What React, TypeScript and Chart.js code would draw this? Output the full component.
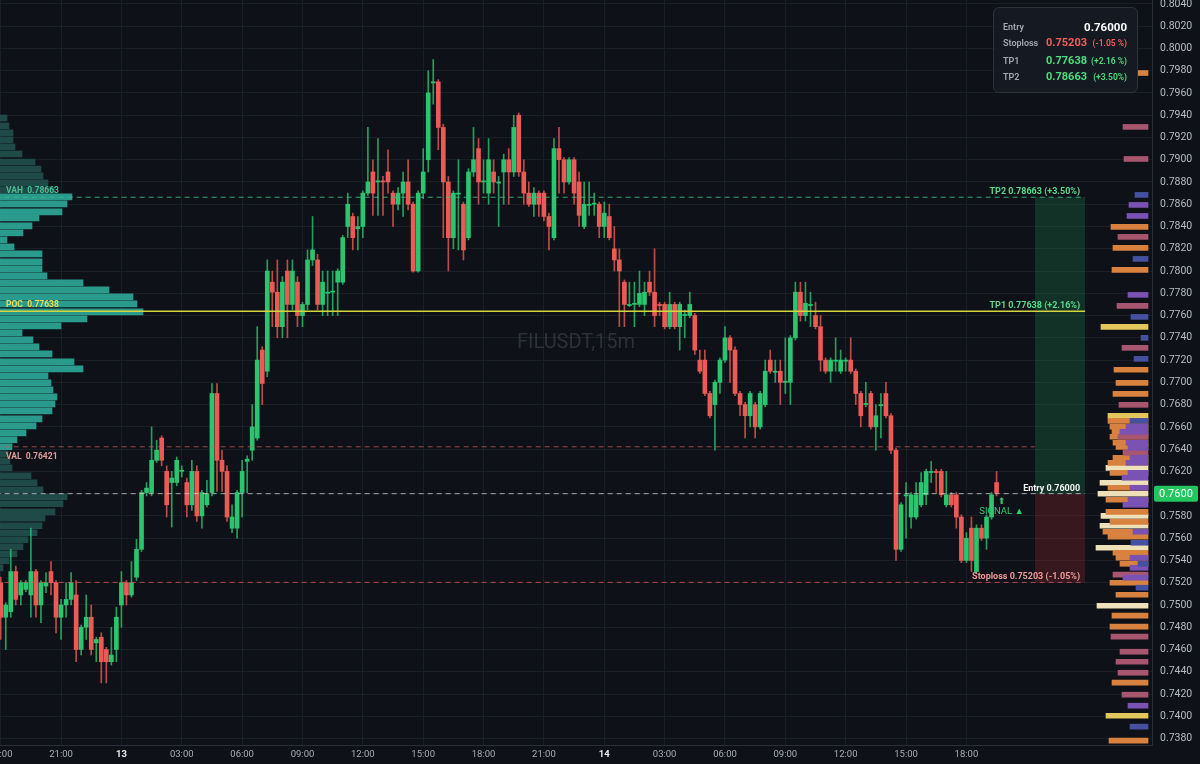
import React, { useEffect, useRef } from 'react';
import { Chart, registerables } from 'chart.js';

Chart.register(...registerables);

// ---------- DATA ----------
const SYMBOL = 'FILUSDT,15m';
const TIME_LABELS = ['18:00', '21:00', '13', '03:00', '06:00', '09:00', '12:00', '15:00', '18:00', '21:00', '14', '03:00', '06:00', '09:00', '12:00', '15:00', '18:00'];
const DAY_LABELS = ['13', '14'];
const CANDLES_PER_LABEL = 12;

const OPEN = [
  0.7520, 0.7489, 0.7494, 0.7530, 0.7509, 0.7514, 0.7509, 0.7530, 0.7500, 0.7517,
  0.7530, 0.7520, 0.7489, 0.7500, 0.7505, 0.7509, 0.7460, 0.7480, 0.7489, 0.7466,
  0.7471, 0.7460, 0.7449, 0.7460, 0.7500, 0.7520, 0.7509, 0.7525, 0.7550, 0.7601,
  0.7601, 0.7630, 0.7650, 0.7620, 0.7610, 0.7610, 0.7620, 0.7610, 0.7590, 0.7620,
  0.7580, 0.7590, 0.7601, 0.7690, 0.7630, 0.7620, 0.7569, 0.7569, 0.7601, 0.7629,
  0.7639, 0.7650, 0.7729, 0.7710, 0.7790, 0.7781, 0.7750, 0.7800, 0.7770, 0.7790,
  0.7760, 0.7770, 0.7810, 0.7810, 0.7770, 0.7780, 0.7781, 0.7790, 0.7790, 0.7840,
  0.7849, 0.7838, 0.7840, 0.7870, 0.7889, 0.7880, 0.7881, 0.7889, 0.7870, 0.7860,
  0.7870, 0.7880, 0.7860, 0.7800, 0.7870, 0.7900, 0.7969, 0.7970, 0.7929, 0.7880,
  0.7830, 0.7869, 0.7860, 0.7830, 0.7889, 0.7910, 0.7880, 0.7870, 0.7889, 0.7879,
  0.7889, 0.7900, 0.7889, 0.7940, 0.7889, 0.7870, 0.7860, 0.7870, 0.7870, 0.7849,
  0.7830, 0.7910, 0.7900, 0.7880, 0.7900, 0.7880, 0.7840, 0.7859, 0.7860, 0.7860,
  0.7840, 0.7849, 0.7820, 0.7810, 0.7790, 0.7769, 0.7770, 0.7770, 0.7770, 0.7790,
  0.7781, 0.7770, 0.7770, 0.7750, 0.7770, 0.7750, 0.7760, 0.7760, 0.7760, 0.7720,
  0.7720, 0.7690, 0.7680, 0.7700, 0.7720, 0.7740, 0.7729, 0.7690, 0.7680, 0.7670,
  0.7680, 0.7660, 0.7680, 0.7720, 0.7709, 0.7710, 0.7700, 0.7700, 0.7740, 0.7781,
  0.7760, 0.7769, 0.7760, 0.7750, 0.7720, 0.7710, 0.7719, 0.7710, 0.7719, 0.7720,
  0.7710, 0.7690, 0.7680, 0.7690, 0.7660, 0.7679, 0.7690, 0.7670, 0.7639, 0.7550,
  0.7598, 0.7579, 0.7579, 0.7590, 0.7599, 0.7619, 0.7620, 0.7620, 0.7590, 0.7599,
  0.7599, 0.7579, 0.7540, 0.7569, 0.7530, 0.7569, 0.7560, 0.7579, 0.7610,
];
const HIGH = [
  0.7525, 0.7502, 0.7550, 0.7535, 0.7522, 0.7522, 0.7569, 0.7532, 0.7522, 0.7529,
  0.7539, 0.7522, 0.7505, 0.7520, 0.7529, 0.7522, 0.7482, 0.7509, 0.7500, 0.7471,
  0.7475, 0.7462, 0.7480, 0.7498, 0.7530, 0.7522, 0.7539, 0.7559, 0.7603, 0.7610,
  0.7660, 0.7648, 0.7652, 0.7625, 0.7620, 0.7633, 0.7625, 0.7614, 0.7630, 0.7625,
  0.7603, 0.7612, 0.7699, 0.7699, 0.7639, 0.7625, 0.7590, 0.7603, 0.7630, 0.7634,
  0.7680, 0.7750, 0.7732, 0.7810, 0.7800, 0.7810, 0.7795, 0.7810, 0.7810, 0.7795,
  0.7772, 0.7819, 0.7849, 0.7815, 0.7800, 0.7800, 0.7800, 0.7802, 0.7832, 0.7870,
  0.7852, 0.7849, 0.7872, 0.7929, 0.7900, 0.7919, 0.7885, 0.7909, 0.7872, 0.7875,
  0.7889, 0.7900, 0.7862, 0.7872, 0.7910, 0.7980, 0.7990, 0.7972, 0.7932, 0.7885,
  0.7872, 0.7900, 0.7862, 0.7892, 0.7929, 0.7919, 0.7900, 0.7919, 0.7900, 0.7885,
  0.7905, 0.7910, 0.7940, 0.7942, 0.7900, 0.7880, 0.7875, 0.7872, 0.7872, 0.7852,
  0.7919, 0.7929, 0.7902, 0.7902, 0.7902, 0.7889, 0.7880, 0.7880, 0.7870, 0.7862,
  0.7862, 0.7860, 0.7840, 0.7820, 0.7792, 0.7790, 0.7790, 0.7800, 0.7790, 0.7800,
  0.7820, 0.7772, 0.7772, 0.7781, 0.7772, 0.7772, 0.7765, 0.7781, 0.7762, 0.7729,
  0.7729, 0.7692, 0.7702, 0.7722, 0.7750, 0.7742, 0.7732, 0.7692, 0.7682, 0.7692,
  0.7682, 0.7692, 0.7720, 0.7729, 0.7720, 0.7720, 0.7740, 0.7742, 0.7790, 0.7790,
  0.7790, 0.7781, 0.7772, 0.7760, 0.7722, 0.7722, 0.7740, 0.7729, 0.7722, 0.7740,
  0.7712, 0.7692, 0.7700, 0.7692, 0.7680, 0.7690, 0.7700, 0.7672, 0.7641, 0.7592,
  0.7610, 0.7601, 0.7610, 0.7619, 0.7622, 0.7629, 0.7622, 0.7622, 0.7620, 0.7601,
  0.7601, 0.7581, 0.7565, 0.7579, 0.7572, 0.7572, 0.7581, 0.7601, 0.7620,
];
const LOW = [
  0.7469, 0.7460, 0.7489, 0.7500, 0.7500, 0.7512, 0.7489, 0.7489, 0.7484, 0.7511,
  0.7509, 0.7475, 0.7469, 0.7489, 0.7500, 0.7449, 0.7455, 0.7469, 0.7455, 0.7449,
  0.7430, 0.7430, 0.7446, 0.7449, 0.7480, 0.7500, 0.7507, 0.7522, 0.7548, 0.7598,
  0.7598, 0.7628, 0.7625, 0.7579, 0.7570, 0.7607, 0.7615, 0.7579, 0.7585, 0.7575,
  0.7569, 0.7588, 0.7598, 0.7602, 0.7602, 0.7575, 0.7565, 0.7560, 0.7579, 0.7601,
  0.7630, 0.7648, 0.7680, 0.7705, 0.7750, 0.7740, 0.7740, 0.7740, 0.7765, 0.7750,
  0.7750, 0.7765, 0.7805, 0.7765, 0.7760, 0.7760, 0.7760, 0.7760, 0.7788, 0.7830,
  0.7819, 0.7819, 0.7830, 0.7868, 0.7850, 0.7850, 0.7850, 0.7870, 0.7840, 0.7855,
  0.7849, 0.7855, 0.7799, 0.7799, 0.7865, 0.7889, 0.7950, 0.7909, 0.7830, 0.7800,
  0.7820, 0.7819, 0.7810, 0.7828, 0.7885, 0.7860, 0.7870, 0.7860, 0.7870, 0.7840,
  0.7860, 0.7860, 0.7885, 0.7885, 0.7860, 0.7858, 0.7849, 0.7849, 0.7845, 0.7819,
  0.7828, 0.7870, 0.7870, 0.7878, 0.7860, 0.7840, 0.7838, 0.7850, 0.7850, 0.7830,
  0.7830, 0.7828, 0.7800, 0.7750, 0.7750, 0.7768, 0.7750, 0.7768, 0.7760, 0.7778,
  0.7750, 0.7760, 0.7748, 0.7748, 0.7748, 0.7729, 0.7740, 0.7758, 0.7725, 0.7708,
  0.7688, 0.7668, 0.7639, 0.7690, 0.7718, 0.7700, 0.7688, 0.7670, 0.7650, 0.7660,
  0.7650, 0.7658, 0.7678, 0.7708, 0.7700, 0.7680, 0.7690, 0.7680, 0.7738, 0.7755,
  0.7755, 0.7750, 0.7748, 0.7710, 0.7708, 0.7700, 0.7710, 0.7708, 0.7710, 0.7708,
  0.7680, 0.7660, 0.7678, 0.7658, 0.7639, 0.7650, 0.7668, 0.7636, 0.7540, 0.7548,
  0.7560, 0.7569, 0.7577, 0.7588, 0.7590, 0.7610, 0.7601, 0.7597, 0.7588, 0.7588,
  0.7569, 0.7538, 0.7538, 0.7530, 0.7528, 0.7558, 0.7550, 0.7577, 0.7598,
];
const CLOSE = [
  0.7489, 0.7500, 0.7530, 0.7505, 0.7520, 0.7520, 0.7530, 0.7500, 0.7520, 0.7520,
  0.7520, 0.7489, 0.7500, 0.7505, 0.7520, 0.7460, 0.7480, 0.7489, 0.7460, 0.7469,
  0.7449, 0.7449, 0.7455, 0.7489, 0.7520, 0.7509, 0.7520, 0.7550, 0.7601, 0.7605,
  0.7630, 0.7639, 0.7630, 0.7590, 0.7614, 0.7630, 0.7621, 0.7590, 0.7620, 0.7580,
  0.7601, 0.7600, 0.7690, 0.7630, 0.7620, 0.7579, 0.7579, 0.7601, 0.7620, 0.7631,
  0.7660, 0.7720, 0.7699, 0.7800, 0.7781, 0.7750, 0.7790, 0.7770, 0.7800, 0.7760,
  0.7770, 0.7810, 0.7819, 0.7770, 0.7790, 0.7781, 0.7782, 0.7800, 0.7830, 0.7860,
  0.7830, 0.7840, 0.7870, 0.7880, 0.7870, 0.7881, 0.7880, 0.7880, 0.7860, 0.7870,
  0.7880, 0.7860, 0.7800, 0.7870, 0.7889, 0.7960, 0.7970, 0.7929, 0.7880, 0.7830,
  0.7870, 0.7870, 0.7819, 0.7889, 0.7900, 0.7880, 0.7881, 0.7900, 0.7880, 0.7880,
  0.7900, 0.7889, 0.7929, 0.7889, 0.7870, 0.7860, 0.7870, 0.7860, 0.7849, 0.7840,
  0.7910, 0.7900, 0.7880, 0.7900, 0.7870, 0.7850, 0.7860, 0.7860, 0.7861, 0.7840,
  0.7852, 0.7830, 0.7810, 0.7800, 0.7770, 0.7770, 0.7771, 0.7780, 0.7781, 0.7781,
  0.7760, 0.7769, 0.7750, 0.7770, 0.7750, 0.7770, 0.7761, 0.7770, 0.7729, 0.7710,
  0.7690, 0.7670, 0.7700, 0.7720, 0.7740, 0.7729, 0.7690, 0.7680, 0.7670, 0.7690,
  0.7660, 0.7690, 0.7710, 0.7710, 0.7710, 0.7700, 0.7701, 0.7740, 0.7781, 0.7760,
  0.7771, 0.7770, 0.7750, 0.7720, 0.7710, 0.7720, 0.7720, 0.7720, 0.7720, 0.7710,
  0.7690, 0.7670, 0.7681, 0.7660, 0.7670, 0.7680, 0.7670, 0.7639, 0.7550, 0.7590,
  0.7599, 0.7599, 0.7599, 0.7610, 0.7620, 0.7620, 0.7619, 0.7599, 0.7599, 0.7590,
  0.7579, 0.7540, 0.7560, 0.7540, 0.7569, 0.7560, 0.7579, 0.7599, 0.7601,
];

// Trade levels
const ENTRY = 0.76;
const STOPLOSS = 0.75203;
const TP1 = 0.77638;
const TP2 = 0.78663;
const VAH = 0.78663;
const POC = 0.77638;
const VAL = 0.76421;
const SIGNAL_INDEX = 199;
const SIGNAL_PRICE = 0.7585;
const ZONE_START = 205.6;
const ZONE_END = 215.6;

// Session volume profile (left)
const VP_PRICES = [
  0.79375, 0.79304, 0.79241, 0.79178, 0.79115, 0.79052, 0.78980, 0.78917, 0.78855, 0.78792,
  0.78729, 0.78666, 0.78603, 0.78531, 0.78477, 0.78406, 0.78343, 0.78280, 0.78217, 0.78154,
  0.78082, 0.78019, 0.77957, 0.77894, 0.77831, 0.77768, 0.77705, 0.77633, 0.77570, 0.77508,
  0.77445, 0.77382, 0.77319, 0.77256, 0.77184, 0.77121, 0.77058, 0.76996, 0.76933, 0.76870,
  0.76807, 0.76744, 0.76672, 0.76609, 0.76546, 0.76484, 0.76421, 0.76358, 0.76295, 0.76232,
  0.76161, 0.76098, 0.76035, 0.75972, 0.75909, 0.75837, 0.75780, 0.75712, 0.75649, 0.75586,
  0.75523, 0.75460, 0.75397, 0.75334,
];
const VP_VOLUMES = [
  7, 9, 13, 13, 15, 22, 35, 41, 43, 48,
  55, 72, 67, 62, 39, 32, 23, 7, 14, 42,
  42, 42, 47, 83, 109, 133, 137, 143, 87, 61,
  22, 33, 39, 52, 74, 83, 48, 51, 53, 57,
  55, 52, 42, 36, 26, 17, 12, 8, 10, 12,
  31, 37, 43, 67, 63, 55, 45, 42, 37, 28,
  23, 17, 9, 3,
];

// Order-book liquidity levels (right), [price, size]
const OB_ORANGE = [
  [0.79779, 10], [0.78397, 37], [0.78208, 35], [0.78011, 36], [0.77113, 34], [0.76996, 32], [0.76897, 35],
  [0.76654, 40], [0.76601, 38], [0.76556, 36], [0.76511, 38], [0.76457, 35], [0.76421, 32], [0.76322, 35],
  [0.76277, 40], [0.76187, 38], [0.76053, 40], [0.75945, 42], [0.75837, 42], [0.75747, 38], [0.75658, 45],
  [0.75613, 40], [0.75469, 35], [0.75424, 32], [0.75370, 28], [0.75200, 38], [0.75092, 32], [0.74904, 36],
  [0.74805, 38], [0.74302, 36], [0.73781, 39],
];
const OB_YELLOW = [[0.77499, 47], [0.76699, 40], [0.74005, 42]];
const OB_CREAM = [[0.76232, 42], [0.76098, 48], [0.75999, 50], [0.75801, 47], [0.75712, 48], [0.75514, 52], [0.74993, 51]];
const OB_MAUVE = [
  [0.79295, 25], [0.79007, 24], [0.78307, 30], [0.77687, 31], [0.77310, 26], [0.76798, 29], [0.76511, 30],
  [0.76367, 25], [0.75272, 35], [0.74715, 37], [0.74580, 28], [0.74490, 32], [0.74391, 30], [0.74194, 26],
];
const OB_PURPLE = [
  [0.78594, 19], [0.78495, 21], [0.77786, 20], [0.76601, 22], [0.76556, 28], [0.76457, 22], [0.76412, 20],
  [0.76322, 18], [0.76277, 22], [0.76187, 20], [0.76143, 26], [0.76053, 18], [0.75945, 20], [0.75900, 25],
  [0.75658, 15], [0.75424, 18], [0.75334, 18], [0.75245, 25], [0.74095, 20],
];
const OB_BLUE = [
  [0.78684, 13], [0.78109, 15], [0.77588, 17], [0.77400, 7], [0.77211, 14], [0.76654, 18], [0.75559, 17],
  [0.75370, 10], [0.75155, 12], [0.73907, 18],
];

// ---------- STYLE ----------
const BG = '#0e1117';
const GRID = '#1a1e27';
const AXIS_BORDER = '#2a2e39';
const FONT = 'Roboto, "Noto Sans", sans-serif';
const UP = '#2bc46f';
const DOWN = '#ec5a55';
const GREEN_TXT = '#4ade80';
const RED_TXT = '#f25f5c';
const X_MIN = -0.14;
const X_MAX = 228.9;
const Y_MIN = 0.73742;
const Y_MAX = 0.80435;

const pct = (p: number) => {
  const v = (p / ENTRY - 1) * 100;
  return (v >= 0 ? '+' : '') + v.toFixed(2) + '%';
};

const overlayPlugin = {
  id: 'overlay',
  beforeDatasetsDraw(chart: any) {
    const { ctx, chartArea } = chart;
    ctx.save();
    ctx.fillStyle = 'rgba(125,130,142,0.28)';
    ctx.font = `20px ${FONT}`;
    ctx.textAlign = 'center';
    ctx.textBaseline = 'middle';
    ctx.fillText(SYMBOL, (chartArea.left + chartArea.right) / 2, chartArea.top + chartArea.height * 0.46);
    ctx.restore();
  },
  afterDatasetsDraw(chart: any) {
    const { ctx, chartArea, scales } = chart;
    const x = scales.x;
    const y = scales.y;
    const t = (s: string, px: number, py: number, color: string, align: string, font: string) => {
      ctx.fillStyle = color;
      ctx.font = font;
      ctx.textAlign = align;
      ctx.textBaseline = 'alphabetic';
      ctx.fillText(s, px, py);
    };
    ctx.save();
    const lf = `bold 8.5px ${FONT}`;
    const rf = `bold 9px ${FONT}`;
    const lx = chartArea.left + 6;
    t(`VAH  ${VAH.toFixed(5)}`, lx, y.getPixelForValue(VAH) - 4, '#45c092', 'left', lf);
    t(`POC  ${POC.toFixed(5)}`, lx, y.getPixelForValue(POC) - 4, '#e6dc5a', 'left', lf);
    t(`VAL  ${VAL.toFixed(5)}`, lx, y.getPixelForValue(VAL) + 12, '#e09c9c', 'left', lf);
    const rx = x.getPixelForValue(ZONE_END) - 5;
    t(`TP2 ${TP2.toFixed(5)} (${pct(TP2)})`, rx, y.getPixelForValue(TP2) - 3, '#5ad98c', 'right', rf);
    t(`TP1 ${TP1.toFixed(5)} (${pct(TP1)})`, rx, y.getPixelForValue(TP1) - 3, '#5ad98c', 'right', rf);
    t(`Entry ${ENTRY.toFixed(5)}`, rx, y.getPixelForValue(ENTRY) - 3, '#f2f2f2', 'right', rf);
    t(`Stoploss ${STOPLOSS.toFixed(5)} (${pct(STOPLOSS)})`, rx, y.getPixelForValue(STOPLOSS) - 3, '#f09a9a', 'right', rf);
    const sx = x.getPixelForValue(SIGNAL_INDEX);
    const sy = y.getPixelForValue(SIGNAL_PRICE);
    t('SIGNAL ▲', sx, sy + 4, '#2ecc71', 'center', `9.5px ${FONT}`);
    t('⬆', sx, sy - 6, '#2ecc71', 'center', `9px "DejaVu Sans"`);
    ctx.restore();
  },
  afterDraw(chart: any) {
    const { ctx, scales } = chart;
    const y = scales.y;
    const py = y.getPixelForValue(ENTRY);
    ctx.save();
    ctx.fillStyle = '#22c55e';
    ctx.beginPath();
    (ctx as any).roundRect(y.left + 2, py - 8, 44, 16, 2);
    ctx.fill();
    ctx.fillStyle = '#ffffff';
    ctx.font = `11px ${FONT}`;
    ctx.textAlign = 'left';
    ctx.textBaseline = 'middle';
    ctx.fillText(ENTRY.toFixed(4), y.left + 7, py + 0.5);
    ctx.restore();
  },
};

function buildConfig(): any {
  const idx = OPEN.map((_, i) => i);
  const candleColor = idx.map((i) => (CLOSE[i] >= OPEN[i] ? UP : DOWN));
  const wickColor = idx.map((i) => (CLOSE[i] >= OPEN[i] ? 'rgba(43,196,111,0.8)' : 'rgba(236,90,85,0.8)'));
  const inVA = (p: number) => p <= VAH + 0.0001 && p >= VAL - 0.0001;

  const level = (price: number, from: number, to: number, color: string, dash: number[], width = 1) => ({
    type: 'line',
    data: [{ x: from, y: price }, { x: to, y: price }],
    borderColor: color,
    borderWidth: width,
    borderDash: dash,
    pointRadius: 0,
    fill: false,
    order: 0,
    xAxisID: 'x',
    yAxisID: 'y',
  });

  const ob = (rows: number[][], color: string, order: number) => ({
    type: 'bar',
    indexAxis: 'y',
    data: rows.map((r) => ({ x: r[1], y: r[0] })),
    backgroundColor: color,
    barThickness: 5,
    grouped: false,
    order,
    xAxisID: 'xr',
    yAxisID: 'y',
  });

  return {
    type: 'bar',
    data: {
      datasets: [
        {
          type: 'bar',
          data: idx.map((i) => ({ x: i, y: [OPEN[i], CLOSE[i]] })),
          backgroundColor: candleColor,
          barThickness: 4,
          minBarLength: 1,
          grouped: false,
          order: 1,
          xAxisID: 'x',
          yAxisID: 'y',
        },
        {
          type: 'bar',
          data: idx.map((i) => ({ x: i, y: [LOW[i], HIGH[i]] })),
          backgroundColor: wickColor,
          barThickness: 1,
          grouped: false,
          order: 2,
          xAxisID: 'x',
          yAxisID: 'y',
        },
        level(TP2, -1, ZONE_END, 'rgba(60,190,130,0.85)', [5, 4]),
        level(POC, -1, ZONE_END, '#d6d43c', [], 1.5),
        level(VAL, -1, ZONE_START, 'rgba(200,90,90,0.75)', [5, 4]),
        level(ENTRY, -1, ZONE_END, 'rgba(215,215,220,0.75)', [5, 4]),
        level(STOPLOSS, -1, ZONE_END, 'rgba(215,85,85,0.8)', [5, 4]),
        {
          type: 'line',
          data: [{ x: ZONE_START, y: TP2 }, { x: ZONE_END, y: TP2 }],
          borderWidth: 0,
          pointRadius: 0,
          backgroundColor: 'rgba(34,160,90,0.24)',
          fill: { value: ENTRY },
          order: 20,
          xAxisID: 'x',
          yAxisID: 'y',
        },
        {
          type: 'line',
          data: [{ x: ZONE_START, y: STOPLOSS }, { x: ZONE_END, y: STOPLOSS }],
          borderWidth: 0,
          pointRadius: 0,
          backgroundColor: 'rgba(200,50,60,0.22)',
          fill: { value: ENTRY },
          order: 20,
          xAxisID: 'x',
          yAxisID: 'y',
        },
        {
          type: 'bar',
          indexAxis: 'y',
          data: VP_PRICES.map((p, i) => ({ x: VP_VOLUMES[i], y: p })),
          backgroundColor: VP_PRICES.map((p) => (inVA(p) ? '#2a9a8c' : '#1f4a48')),
          barThickness: 6,
          grouped: false,
          order: 10,
          xAxisID: 'xv',
          yAxisID: 'y',
        },
        ob(OB_ORANGE, '#d9813f', 16),
        ob(OB_YELLOW, '#e3c65c', 16),
        ob(OB_CREAM, '#eee0b8', 16),
        ob(OB_MAUVE, '#a8566f', 15),
        ob(OB_PURPLE, '#7a52b3', 14),
        ob(OB_BLUE, '#4650a0', 13),
      ],
    },
    options: {
      responsive: false,
      animation: false,
      events: [],
      layout: { padding: 0 },
      plugins: { legend: { display: false }, tooltip: { enabled: false } },
      scales: {
        x: {
          type: 'linear',
          axis: 'x',
          position: 'bottom',
          min: X_MIN,
          max: X_MAX,
          offset: false,
          grid: { color: GRID, offset: false, drawTicks: false },
          border: { color: AXIS_BORDER },
          afterBuildTicks: (s: any) => {
            s.ticks = TIME_LABELS.map((_, i) => ({ value: i * CANDLES_PER_LABEL }));
          },
          afterFit: (s: any) => {
            s.height = 19;
            s.paddingLeft = 0;
            s.paddingRight = 0;
          },
          ticks: {
            autoSkip: false,
            maxRotation: 0,
            padding: 4,
            callback: (v: number) => TIME_LABELS[Math.round(v / CANDLES_PER_LABEL)] ?? '',
            color: (c: any) => {
              const lbl = TIME_LABELS[Math.round((c.tick?.value ?? 0) / CANDLES_PER_LABEL)];
              return DAY_LABELS.includes(lbl) ? '#e8eaee' : '#a9adb6';
            },
            font: (c: any) => {
              const lbl = TIME_LABELS[Math.round((c.tick?.value ?? 0) / CANDLES_PER_LABEL)];
              return { family: FONT, size: 9.5, weight: DAY_LABELS.includes(lbl) ? 'bold' : 'normal' };
            },
          },
        },
        y: {
          type: 'linear',
          axis: 'y',
          position: 'right',
          min: Y_MIN,
          max: Y_MAX,
          offset: false,
          grid: { color: GRID, offset: false, drawTicks: false },
          border: { color: AXIS_BORDER },
          afterFit: (s: any) => {
            s.width = 48;
            s.paddingTop = 0;
            s.paddingBottom = 0;
          },
          ticks: {
            stepSize: 0.002,
            includeBounds: false,
            padding: 8,
            color: '#b8bcc6',
            font: { family: FONT, size: 10.5 },
            callback: (v: number) => Number(v).toFixed(4),
          },
        },
        xv: { type: 'linear', axis: 'x', display: false, min: 0, max: 1152, offset: false },
        xr: { type: 'linear', axis: 'x', display: false, min: -4, max: 1148, reverse: true, offset: false },
      },
    },
    plugins: [overlayPlugin],
  };
}

function InfoBox() {
  const rows = [
    { label: 'Entry', value: ENTRY.toFixed(5), pct: '', color: '#ffffff', top: 20 },
    { label: 'Stoploss', value: STOPLOSS.toFixed(5), pct: '(-1.05 %)', color: RED_TXT, top: 36 },
    { label: 'TP1', value: TP1.toFixed(5), pct: '(+2.16 %)', color: GREEN_TXT, top: 54 },
    { label: 'TP2', value: TP2.toFixed(5), pct: '(+3.50%)', color: GREEN_TXT, top: 70 },
  ];
  return (
    <div
      style={{
        position: 'absolute',
        left: 993,
        top: 7,
        width: 145,
        height: 86,
        boxSizing: 'border-box',
        border: '1px solid #2d323d',
        borderRadius: 6,
        background: 'rgba(22,26,34,0.96)',
        fontFamily: FONT,
      }}
    >
      {rows.map((r) => (
        <div key={r.label} style={{ position: 'absolute', left: 0, right: 0, top: r.top - 8, height: 14, lineHeight: '14px' }}>
          <span style={{ position: 'absolute', left: 9, fontSize: 9, fontWeight: 600, color: '#a3a8b3' }}>{r.label}</span>
          {r.pct ? (
            <>
              <span style={{ position: 'absolute', left: 52, fontSize: 11, fontWeight: 700, color: r.color }}>{r.value}</span>
              <span style={{ position: 'absolute', right: 10, fontSize: 8.5, fontWeight: 600, color: r.color }}>{r.pct}</span>
            </>
          ) : (
            <span style={{ position: 'absolute', right: 10, fontSize: 11.5, fontWeight: 700, color: r.color }}>{r.value}</span>
          )}
        </div>
      ))}
    </div>
  );
}

export default function App() {
  const ref = useRef<HTMLCanvasElement>(null);
  useEffect(() => {
    document.body.style.margin = '0';
    document.body.style.background = BG;
    const chart = new Chart(ref.current as HTMLCanvasElement, buildConfig());
    return () => chart.destroy();
  }, []);
  return (
    <div style={{ position: 'relative', width: 1200, height: 764, background: BG, overflow: 'hidden' }}>
      <canvas ref={ref} width={1200} height={764} style={{ display: 'block', width: 1200, height: 764 }} />
      <InfoBox />
    </div>
  );
}
